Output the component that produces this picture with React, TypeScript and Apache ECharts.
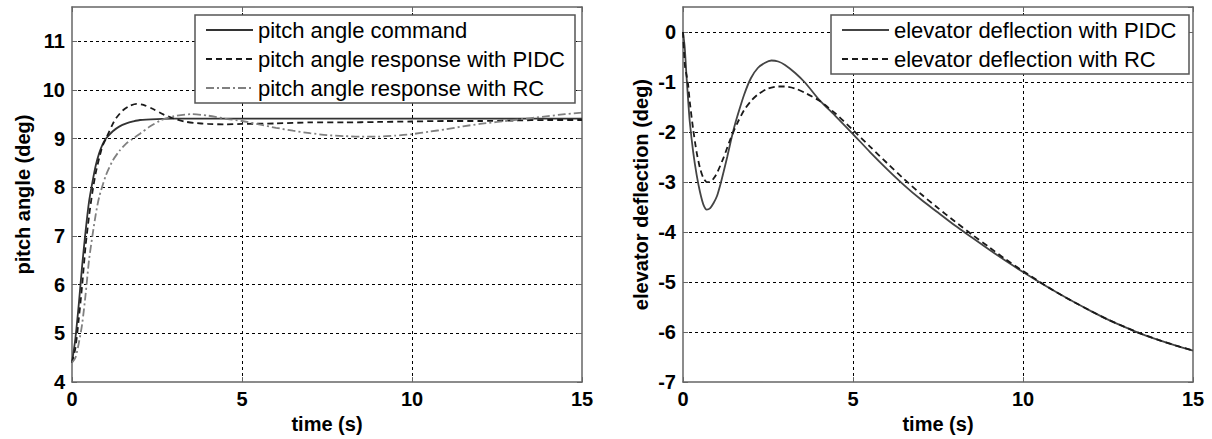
import React, { useEffect, useRef } from "react";
import * as echarts from "echarts";

// ---------- data: left panel (pitch angle) ----------
const T_CMD = [0, 0.1, 0.2, 0.3, 0.4, 0.5, 0.6, 0.7, 0.8, 0.9, 1.0, 1.2, 1.4, 1.6, 1.8, 2.0, 2.5, 3, 15];
const V_CMD = [4.4, 4.9, 5.6, 6.4, 7.1, 7.7, 8.1, 8.45, 8.7, 8.88, 9.0, 9.15, 9.25, 9.31, 9.35, 9.38, 9.4, 9.41, 9.41];

const T_PIDC = [0, 0.1, 0.2, 0.3, 0.4, 0.5, 0.6, 0.7, 0.8, 0.9, 1.0, 1.1, 1.2, 1.3, 1.5, 1.7, 1.9, 2.1, 2.4, 2.7, 3.0, 3.3, 3.6, 4.0, 4.5, 5, 6, 7, 8, 9, 10, 11, 12, 13, 14, 15];
const V_PIDC = [4.4, 4.7, 5.3, 6.0, 6.8, 7.4, 7.9, 8.3, 8.6, 8.85, 9.0, 9.15, 9.3, 9.42, 9.58, 9.67, 9.71, 9.69, 9.6, 9.49, 9.41, 9.35, 9.32, 9.3, 9.29, 9.3, 9.31, 9.33, 9.33, 9.34, 9.35, 9.36, 9.36, 9.37, 9.38, 9.38];

const T_RC = [0, 0.1, 0.2, 0.3, 0.4, 0.5, 0.6, 0.7, 0.8, 1.0, 1.2, 1.4, 1.6, 1.8, 2.0, 2.3, 2.6, 3.0, 3.5, 4.0, 4.5, 5, 5.5, 6, 6.5, 7, 7.5, 8, 8.5, 9, 9.5, 10, 10.5, 11, 11.5, 12, 12.5, 13, 13.5, 14, 14.5, 15];
const V_RC = [4.4, 4.5, 4.8, 5.2, 5.8, 6.5, 7.0, 7.45, 7.8, 8.25, 8.55, 8.75, 8.9, 9.0, 9.1, 9.25, 9.37, 9.46, 9.5, 9.47, 9.41, 9.36, 9.29, 9.22, 9.16, 9.11, 9.07, 9.05, 9.04, 9.04, 9.06, 9.09, 9.14, 9.19, 9.25, 9.3, 9.34, 9.38, 9.42, 9.46, 9.5, 9.53];

// ---------- data: right panel (elevator deflection) ----------
const T_EPIDC = [0, 0.05, 0.1, 0.15, 0.2, 0.3, 0.4, 0.5, 0.6, 0.7, 0.8, 0.9, 1.0, 1.1, 1.2, 1.3, 1.4, 1.5, 1.6, 1.8, 2.0, 2.2, 2.4, 2.6, 2.8, 3.0, 3.3, 3.6, 4.0, 4.5, 5, 5.5, 6, 6.5, 7, 7.5, 8, 8.5, 9, 9.5, 10, 10.5, 11, 11.5, 12, 12.5, 13, 13.5, 14, 14.5, 15];
const V_EPIDC = [0, -0.3, -0.85, -1.35, -1.8, -2.4, -2.85, -3.2, -3.45, -3.55, -3.52, -3.42, -3.28, -3.05, -2.78, -2.5, -2.2, -1.92, -1.68, -1.25, -0.92, -0.72, -0.62, -0.57, -0.59, -0.66, -0.82, -1.02, -1.35, -1.69, -2.04, -2.4, -2.74, -3.06, -3.35, -3.61, -3.87, -4.11, -4.35, -4.58, -4.8, -5.01, -5.21, -5.4, -5.58, -5.75, -5.9, -6.04, -6.16, -6.27, -6.37];

const T_ERC = [0, 0.03, 0.06, 0.1, 0.15, 0.2, 0.3, 0.4, 0.5, 0.6, 0.7, 0.8, 0.9, 1.0, 1.2, 1.4, 1.6, 1.8, 2.0, 2.2, 2.5, 2.8, 3.0, 3.3, 3.6, 4.0, 4.5, 5, 5.5, 6, 6.5, 7, 7.5, 8, 8.5, 9, 9.5, 10, 10.5, 11, 11.5, 12, 12.5, 13, 13.5, 14, 14.5, 15];
const V_ERC = [0, -0.4, -0.7, -0.85, -1.05, -1.4, -1.95, -2.4, -2.72, -2.92, -3.0, -3.0, -2.93, -2.82, -2.5, -2.13, -1.82, -1.56, -1.38, -1.25, -1.13, -1.09, -1.09, -1.13, -1.22, -1.37, -1.64, -1.96, -2.29, -2.62, -2.94, -3.24, -3.52, -3.79, -4.05, -4.3, -4.55, -4.78, -5.0, -5.21, -5.4, -5.58, -5.75, -5.9, -6.04, -6.16, -6.27, -6.37];

const LEFT_NAMES = ["pitch angle command", "pitch angle response with PIDC", "pitch angle response with RC"];
const RIGHT_NAMES = ["elevator deflection with PIDC", "elevator deflection with RC"];

const X_MIN = 0, X_MAX = 15, X_STEP = 5;
const LEFT_Y = { min: 4, max: 11.7, step: 1 };
const RIGHT_Y = { min: -7, max: 0.5, step: 1 };

const FONT = '"Liberation Sans", Arial, Helvetica, sans-serif';
const BOX = "#666";

function pairs(t: number[], v: number[]) {
  return t.map((x, i) => [x, v[i]]);
}

function xAxis(gridIndex: number, position: "bottom" | "top", main: boolean) {
  return {
    type: "value",
    gridIndex,
    position,
    min: X_MIN,
    max: X_MAX,
    interval: X_STEP,
    axisLine: { show: true, onZero: false, lineStyle: { color: BOX, width: 1.5 } },
    axisTick: { show: true, inside: true, length: 5, lineStyle: { color: BOX } },
    axisLabel: {
      show: main,
      margin: 7,
      color: "#000",
      fontFamily: FONT,
      fontWeight: "bold",
      fontSize: 20,
    },
    splitLine: {
      show: main,
      showMinLine: false,
      showMaxLine: false,
      lineStyle: { color: "#000", width: 1, type: [3, 3] },
    },
    name: main ? "time (s)" : "",
    nameLocation: "middle",
    nameGap: 31,
    nameTextStyle: { color: "#000", fontFamily: FONT, fontWeight: "bold", fontSize: 20 },
  };
}

function yAxis(gridIndex: number, position: "left" | "right", main: boolean, rng: any, name: string, gap: number) {
  return {
    type: "value",
    gridIndex,
    position,
    min: rng.min,
    max: rng.max,
    interval: rng.step,
    axisLine: { show: true, onZero: false, lineStyle: { color: BOX, width: 1.5 } },
    axisTick: { show: true, inside: true, length: 5, lineStyle: { color: BOX } },
    axisLabel: {
      show: main,
      margin: 7,
      showMaxLabel: false,
      color: "#000",
      fontFamily: FONT,
      fontWeight: "bold",
      fontSize: 20,
    },
    splitLine: {
      show: main,
      showMinLine: false,
      showMaxLine: false,
      lineStyle: { color: "#000", width: 1, type: [3, 3] },
    },
    name: main ? name : "",
    nameLocation: "middle",
    nameGap: gap,
    nameTextStyle: { color: "#000", fontFamily: FONT, fontWeight: "bold", fontSize: 20 },
  };
}

function legend(names: string[], left: number, textWidth: number) {
  return {
    data: names,
    orient: "vertical",
    left,
    top: 15,
    padding: [4, 5, 4, 10],
    itemWidth: 47,
    itemHeight: 20,
    itemGap: 7,
    backgroundColor: "#fff",
    borderColor: "#555",
    borderWidth: 1.5,
    borderRadius: 0,
    selectedMode: false,
    itemStyle: { opacity: 0, borderWidth: 0 },
    textStyle: {
      color: "#000",
      fontFamily: FONT,
      fontSize: 22,
      lineHeight: 22,
      width: textWidth,
    },
  };
}

function line(name: string, x: number, y: number, data: number[][], color: string, type: any) {
  return {
    name,
    type: "line",
    xAxisIndex: x,
    yAxisIndex: y,
    data,
    symbol: "none",
    smooth: 0.25,
    lineStyle: { color, width: 1.8, type },
    itemStyle: { color },
    z: 3,
  };
}

export default function App() {
  const ref = useRef<HTMLDivElement>(null);
  useEffect(() => {
    if (!ref.current) return;
    const chart = echarts.init(ref.current, undefined, { renderer: "svg" });
    chart.setOption({
      animation: false,
      backgroundColor: "#fff",
      grid: [
        { left: 72, top: 7, width: 510, height: 377, show: false },
        { left: 683, top: 7, width: 510, height: 377, show: false },
      ],
      xAxis: [xAxis(0, "bottom", true), xAxis(0, "top", false), xAxis(1, "bottom", true), xAxis(1, "top", false)],
      yAxis: [
        yAxis(0, "left", true, LEFT_Y, "pitch angle (deg)", 39),
        yAxis(0, "right", false, LEFT_Y, "", 0),
        yAxis(1, "left", true, RIGHT_Y, "elevator deflection (deg)", 32),
        yAxis(1, "right", false, RIGHT_Y, "", 0),
      ],
      legend: [legend(LEFT_NAMES, 195, 312), legend(RIGHT_NAMES, 831, 290)],
      series: [
        line(LEFT_NAMES[0], 0, 0, pairs(T_CMD, V_CMD), "#333", "solid"),
        line(LEFT_NAMES[1], 0, 0, pairs(T_PIDC, V_PIDC), "#1a1a1a", [6, 4]),
        line(LEFT_NAMES[2], 0, 0, pairs(T_RC, V_RC), "#808080", [8, 3, 2, 3]),
        line(RIGHT_NAMES[0], 2, 2, pairs(T_EPIDC, V_EPIDC), "#444", "solid"),
        line(RIGHT_NAMES[1], 2, 2, pairs(T_ERC, V_ERC), "#1a1a1a", [6, 4]),
      ],
    });
    return () => chart.dispose();
  }, []);
  return (
    <div
      ref={ref}
      style={{ position: "fixed", left: 0, top: 0, width: 1212, height: 439, background: "#fff" }}
    />
  );
}
